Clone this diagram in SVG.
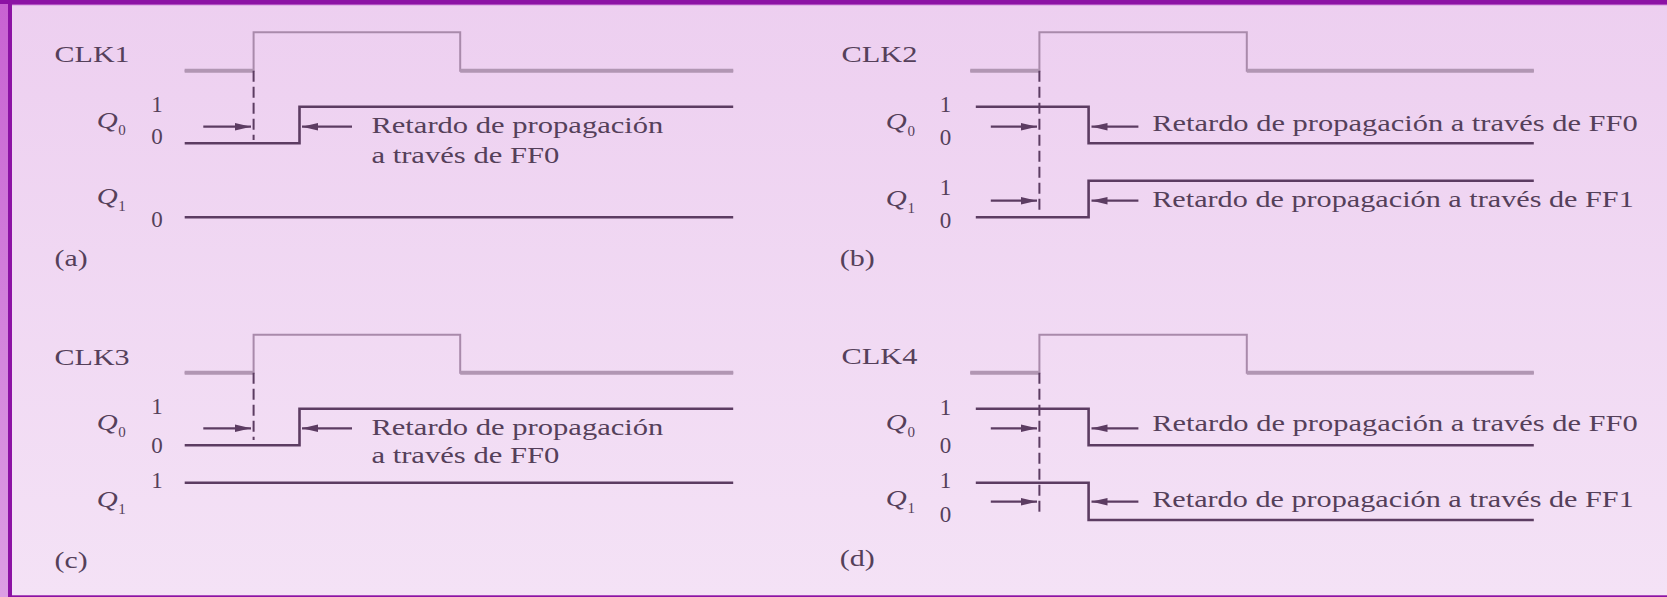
<svg xmlns="http://www.w3.org/2000/svg" width="1667" height="597" viewBox="0 0 1667 597">
<defs>
<linearGradient id="bg" x1="0" y1="0" x2="0" y2="1">
<stop offset="0" stop-color="#edcff0"/>
<stop offset="1" stop-color="#f4e2f6"/>
</linearGradient>
<linearGradient id="side" x1="0" y1="0" x2="0" y2="1">
<stop offset="0" stop-color="#c862d2"/>
<stop offset="1" stop-color="#dc9ee4"/>
</linearGradient>
<marker id="ah" markerUnits="userSpaceOnUse" viewBox="0 0 16 9" refX="16" refY="4.5" markerWidth="16" markerHeight="9" orient="auto">
<path d="M0,0.8 L16,4.5 L0,8.2 z" fill="#5c3c62"/>
</marker>
<style>
.t{font-family:"Liberation Serif","Times New Roman",serif;font-size:23px;fill:#55405a}
.d{text-anchor:middle}
.q{font-style:italic}
.s{font-size:15px}
.clk{fill:none;stroke:#a98aab;stroke-width:2}
.clo{fill:none;stroke:#b196b3;stroke-width:4}
.w{fill:none;stroke:#5c3c62;stroke-width:2.6}
.dash{fill:none;stroke:#5c3c62;stroke-width:2;stroke-dasharray:11 5}
.ar{fill:none;stroke:#5c3c62;stroke-width:2.2;marker-end:url(#ah)}
</style>
</defs>
<rect x="0" y="0" width="1667" height="597" fill="url(#bg)"/>
<rect x="0" y="0" width="8" height="597" fill="url(#side)"/>
<rect x="8" y="0" width="4" height="597" fill="#8c12a4"/>
<rect x="0" y="0" width="1667" height="4" fill="#8c12a4"/>
<rect x="12" y="4" width="1655" height="1.2" fill="#b04cc0"/>
<rect x="8" y="595.3" width="1659" height="1.7" fill="#8c12a4"/>

<g id="panel-a">
<text class="t" x="54.6" y="62" textLength="75" lengthAdjust="spacingAndGlyphs">CLK1</text>
<path class="clk" d="M184.7,70.7 H253.6 V32.3 H460.2 V70.7 H733.2"/>
<path class="clo" d="M184.7,70.7 H253.6 M460.2,70.7 H733.2"/>
<text class="t q" x="96.7" y="128" textLength="21" lengthAdjust="spacingAndGlyphs">Q</text>
<text class="t s" x="118.3" y="135">0</text>
<text class="t d" x="157" y="112">1</text>
<text class="t d" x="157" y="144">0</text>
<path class="w" d="M184.7,143.3 H299.5 V106.7 H733.2"/>
<text class="t q" x="96.7" y="204" textLength="21" lengthAdjust="spacingAndGlyphs">Q</text>
<text class="t s" x="118.3" y="211">1</text>
<text class="t d" x="157" y="226.7">0</text>
<path class="w" d="M184.7,217.3 H733.2"/>
<text class="t" x="371.4" y="133.3" textLength="292" lengthAdjust="spacingAndGlyphs">Retardo de propagación</text>
<text class="t" x="371.4" y="162.7" textLength="188" lengthAdjust="spacingAndGlyphs">a través de FF0</text>
<text class="t" x="54.6" y="266" textLength="33" lengthAdjust="spacingAndGlyphs">(a)</text>
</g>

<g id="panel-b">
<text class="t" x="841.5" y="62" textLength="76" lengthAdjust="spacingAndGlyphs">CLK2</text>
<path class="clk" d="M970.3,70.7 H1039.4 V32.3 H1246.8 V70.7 H1533.8"/>
<path class="clo" d="M970.3,70.7 H1039.4 M1246.8,70.7 H1533.8"/>
<text class="t q" x="885.7" y="129" textLength="21" lengthAdjust="spacingAndGlyphs">Q</text>
<text class="t s" x="907.5" y="136">0</text>
<text class="t d" x="945.5" y="112">1</text>
<text class="t d" x="945.5" y="144.5">0</text>
<path class="w" d="M975.8,106.7 H1088.6 V143.3 H1533.8"/>
<text class="t q" x="885.7" y="206" textLength="21" lengthAdjust="spacingAndGlyphs">Q</text>
<text class="t s" x="907.5" y="213">1</text>
<text class="t d" x="945.5" y="195">1</text>
<text class="t d" x="945.5" y="227.5">0</text>
<path class="w" d="M975.8,217.3 H1088.6 V180.7 H1533.8"/>
<text class="t" x="1152.2" y="130.7" textLength="485.5" lengthAdjust="spacingAndGlyphs">Retardo de propagación a través de FF0</text>
<text class="t" x="1152.2" y="206.7" textLength="481.6" lengthAdjust="spacingAndGlyphs">Retardo de propagación a través de FF1</text>
<text class="t" x="839.8" y="266" textLength="35" lengthAdjust="spacingAndGlyphs">(b)</text>
</g>

<g id="panel-c">
<text class="t" x="54.6" y="365" textLength="75" lengthAdjust="spacingAndGlyphs">CLK3</text>
<path class="clk" d="M184.7,372.7 H253.6 V334.7 H460.2 V372.7 H733.2"/>
<path class="clo" d="M184.7,372.7 H253.6 M460.2,372.7 H733.2"/>
<text class="t q" x="96.7" y="430" textLength="21" lengthAdjust="spacingAndGlyphs">Q</text>
<text class="t s" x="118.3" y="437">0</text>
<text class="t d" x="157" y="414">1</text>
<text class="t d" x="157" y="452.7">0</text>
<path class="w" d="M184.7,445.3 H299.5 V408.7 H733.2"/>
<text class="t q" x="96.7" y="507" textLength="21" lengthAdjust="spacingAndGlyphs">Q</text>
<text class="t s" x="118.3" y="514">1</text>
<text class="t d" x="157" y="488.3">1</text>
<path class="w" d="M184.7,482.7 H733.2"/>
<text class="t" x="371.4" y="435" textLength="292" lengthAdjust="spacingAndGlyphs">Retardo de propagación</text>
<text class="t" x="371.4" y="463.3" textLength="188" lengthAdjust="spacingAndGlyphs">a través de FF0</text>
<text class="t" x="54.6" y="568" textLength="33" lengthAdjust="spacingAndGlyphs">(c)</text>
</g>

<g id="panel-d">
<text class="t" x="841.5" y="364" textLength="76" lengthAdjust="spacingAndGlyphs">CLK4</text>
<path class="clk" d="M970.3,372.7 H1039.4 V334.7 H1246.8 V372.7 H1533.8"/>
<path class="clo" d="M970.3,372.7 H1039.4 M1246.8,372.7 H1533.8"/>
<text class="t q" x="885.7" y="430" textLength="21" lengthAdjust="spacingAndGlyphs">Q</text>
<text class="t s" x="907.5" y="437">0</text>
<text class="t d" x="945.5" y="415">1</text>
<text class="t d" x="945.5" y="453.3">0</text>
<path class="w" d="M975.8,408.7 H1088.6 V445.3 H1533.8"/>
<text class="t q" x="885.7" y="506" textLength="21" lengthAdjust="spacingAndGlyphs">Q</text>
<text class="t s" x="907.5" y="513">1</text>
<text class="t d" x="945.5" y="488.3">1</text>
<text class="t d" x="945.5" y="521.7">0</text>
<path class="w" d="M975.8,482.7 H1088.6 V520 H1533.8"/>
<text class="t" x="1152.2" y="430.7" textLength="485.5" lengthAdjust="spacingAndGlyphs">Retardo de propagación a través de FF0</text>
<text class="t" x="1152.2" y="506.7" textLength="481.6" lengthAdjust="spacingAndGlyphs">Retardo de propagación a través de FF1</text>
<text class="t" x="839.8" y="566" textLength="35" lengthAdjust="spacingAndGlyphs">(d)</text>
</g>

<g id="connectors">
<line class="dash" x1="253.6" y1="70.7" x2="253.6" y2="140"/>
<line class="ar" x1="203.3" y1="126.7" x2="251" y2="126.7"/>
<line class="ar" x1="352" y1="126.7" x2="302" y2="126.7"/>
<line class="dash" x1="1039.4" y1="70.7" x2="1039.4" y2="213.3"/>
<line class="ar" x1="990.8" y1="126.7" x2="1037" y2="126.7"/>
<line class="ar" x1="1138.4" y1="126.7" x2="1091.5" y2="126.7"/>
<line class="ar" x1="990.8" y1="200.7" x2="1037" y2="200.7"/>
<line class="ar" x1="1138.4" y1="200.7" x2="1091.5" y2="200.7"/>
<line class="dash" x1="253.6" y1="372.7" x2="253.6" y2="440"/>
<line class="ar" x1="203.3" y1="428.3" x2="251" y2="428.3"/>
<line class="ar" x1="352" y1="428.3" x2="302" y2="428.3"/>
<line class="dash" x1="1039.4" y1="372.7" x2="1039.4" y2="513.3"/>
<line class="ar" x1="990.8" y1="428.3" x2="1037" y2="428.3"/>
<line class="ar" x1="1138.4" y1="428.3" x2="1091.5" y2="428.3"/>
<line class="ar" x1="990.8" y1="501.7" x2="1037" y2="501.7"/>
<line class="ar" x1="1138.4" y1="501.7" x2="1091.5" y2="501.7"/>
</g>
</svg>
